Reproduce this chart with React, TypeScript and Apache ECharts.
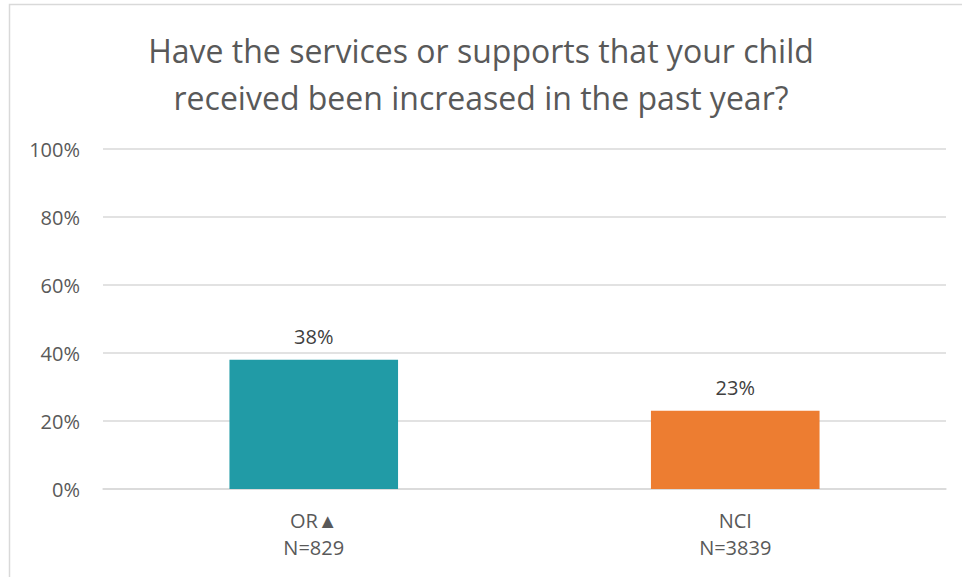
import React, { useEffect, useRef } from "react";
import * as echarts from "echarts";

const titleText = "Have the services or supports that your child\nreceived been increased in the past year?";
const categories = ["OR▲\nN=829", "NCI\nN=3839"];
const values = [38, 23];
const barColors = ["#219BA6", "#ED7D31"];
const yTicks = [0, 20, 40, 60, 80, 100];

const FONT = "'Open Sans', sans-serif";

export default function App() {
  const ref = useRef<HTMLDivElement>(null);
  useEffect(() => {
    document.body.style.margin = "0";
    const chart = echarts.init(ref.current!, null, { renderer: "svg" });
    chart.setOption({
      animation: false,
      backgroundColor: "#ffffff",
      textStyle: { fontFamily: FONT },
      title: {
        text: titleText,
        left: "center",
        top: 22,
        textStyle: {
          fontFamily: FONT,
          fontSize: 32,
          fontWeight: "normal",
          color: "#595959",
          lineHeight: 47,
        },
      },
      graphic: [
        {
          type: "rect",
          shape: { x: 9.5, y: 4.5, width: 1000, height: 700 },
          style: { fill: "none", stroke: "#d9d9d9", lineWidth: 1.5 },
          silent: true,
        },
      ],
      grid: { left: 103, right: 16, top: 149, bottom: 88 },
      xAxis: {
        type: "category",
        data: categories,
        axisTick: { show: false },
        axisLine: { show: true, lineStyle: { color: "#d9d9d9", width: 1.5 } },
        axisLabel: {
          fontFamily: FONT,
          fontSize: 20,
          color: "#595959",
          lineHeight: 27,
          margin: 18,
        },
      },
      yAxis: {
        type: "value",
        min: 0,
        max: 100,
        interval: 20,
        axisLine: { show: false },
        axisTick: { show: false },
        splitLine: { lineStyle: { color: "#d9d9d9", width: 1.5 } },
        axisLabel: {
          fontFamily: FONT,
          fontSize: 20,
          color: "#595959",
          margin: 23,
          formatter: (v: number) => (yTicks.includes(v) ? v + "%" : ""),
        },
      },
      series: [
        {
          type: "bar",
          barWidth: "40%",
          data: values.map((v, i) => ({ value: v, itemStyle: { color: barColors[i] } })),
          label: {
            show: true,
            position: "top",
            distance: 10,
            formatter: "{c}%",
            fontFamily: FONT,
            fontSize: 20,
            color: "#404040",
            backgroundColor: "#ffffff",
            padding: [3, 9, 3, 9],
          },
        },
      ],
    });
    return () => chart.dispose();
  }, []);
  return <div ref={ref} style={{ width: 962, height: 577 }} />;
}
